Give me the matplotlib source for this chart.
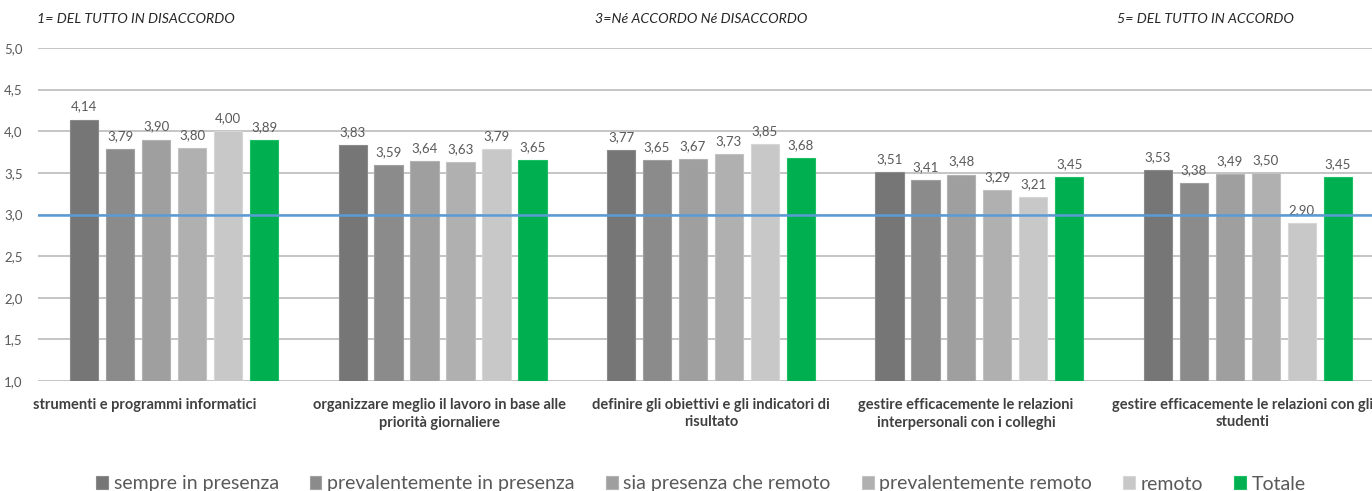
import matplotlib.pyplot as plt
import matplotlib as mpl
import numpy as np

categories = ['strumenti e programmi informatici',
              'organizzare meglio il lavoro in base alle\npriorità giornaliere',
              'definire gli obiettivi e gli indicatori di\nrisultato',
              'gestire efficacemente le relazioni\ninterpersonali con i colleghi',
              'gestire efficacemente le relazioni con gli\nstudenti']
series_names = ['sempre in presenza', 'prevalentemente in presenza',
                'sia presenza che remoto', 'prevalentemente remoto',
                'remoto', 'Totale']
sempre = [4.14, 3.83, 3.77, 3.51, 3.53]
prev_presenza = [3.79, 3.59, 3.65, 3.41, 3.38]
sia = [3.90, 3.64, 3.67, 3.48, 3.49]
prev_remoto = [3.80, 3.63, 3.73, 3.29, 3.50]
remoto = [4.00, 3.79, 3.85, 3.21, 2.90]
totale = [3.89, 3.65, 3.68, 3.45, 3.45]
values = [sempre, prev_presenza, sia, prev_remoto, remoto, totale]
reference = 3.0
scale_notes = ['1= DEL TUTTO IN DISACCORDO', '3=Né ACCORDO Né DISACCORDO', '5= DEL TUTTO IN ACCORDO']

colors = ['#767676', '#8b8b8b', '#9f9f9f', '#b0b0b0', '#c8c8c8', '#00b050']
edges = ['#8a8a8a', '#a0a0a0', '#b2b2b2', '#c2c2c2', '#d6d6d6', '#1dbf63']
txt = '#595959'

mpl.rcParams['font.family'] = ['Lato', 'DejaVu Sans']

fig = plt.figure(figsize=(13.72, 4.91), dpi=100)
# right edge goes past the figure, the source picture is cropped
ax = fig.add_axes([38 / 1372, 110 / 491, 1344 / 1372, 333 / 491])

x = np.arange(len(categories))
pitch = 0.134
width = 0.105
for k, (vals, name) in enumerate(zip(values, series_names)):
    pos = x + (k - 2.5) * pitch
    bars = ax.bar(pos, vals, width=width, bottom=0, color=colors[k],
                  edgecolor=edges[k], linewidth=0.8, label=name, zorder=2)
    for b, v in zip(bars, vals):
        ax.annotate(f'{v:.2f}'.replace('.', ','), (b.get_x() + b.get_width() / 2, v),
                    xytext=(0, 5), textcoords='offset points', ha='center', va='bottom',
                    fontsize=9.5, color=txt)

ax.axhline(reference, color='#5b9bd5', lw=1.8, zorder=3)

ax.set_xlim(-0.507, 4.5)
ax.set_ylim(1.0, 5.0)
ax.set_yticks(np.arange(1.0, 5.01, 0.5))
ax.set_yticklabels([f'{t:.1f}'.replace('.', ',') for t in np.arange(1.0, 5.01, 0.5)],
                   fontsize=9.5, color=txt)
ax.yaxis.grid(True, color='#c0c0c0', lw=1.3, zorder=0)
ax.set_axisbelow(True)
for s in ax.spines.values():
    s.set_visible(False)
ax.tick_params(axis='y', length=0, pad=11)
ax.set_xticks([])

# category labels under each group
shifts = [-0.108, -0.01, 0.0, -0.05, -0.02]
for i, lab in enumerate(categories):
    ax.text(x[i] + shifts[i], -0.05, lab, transform=ax.get_xaxis_transform(),
            ha='center', va='top', fontsize=10.5, fontweight='bold', color='#404040',
            linespacing=1.35)

note_x = [37, 595, 1117]
for nx, note in zip(note_x, scale_notes):
    fig.text(nx / 1372, 1 - 19 / 491, note, ha='left', va='center', fontsize=10.2,
             style='italic', color='#262626')

leg = fig.legend(loc='center', bbox_to_anchor=(0.511, 1 - 484 / 491), ncol=6, frameon=False,
                 fontsize=14, handlelength=0.6, handleheight=0.6, handletextpad=0.3,
                 columnspacing=1.6)
for t in leg.get_texts():
    t.set_color(txt)

fig.savefig('out.png', dpi=100)
